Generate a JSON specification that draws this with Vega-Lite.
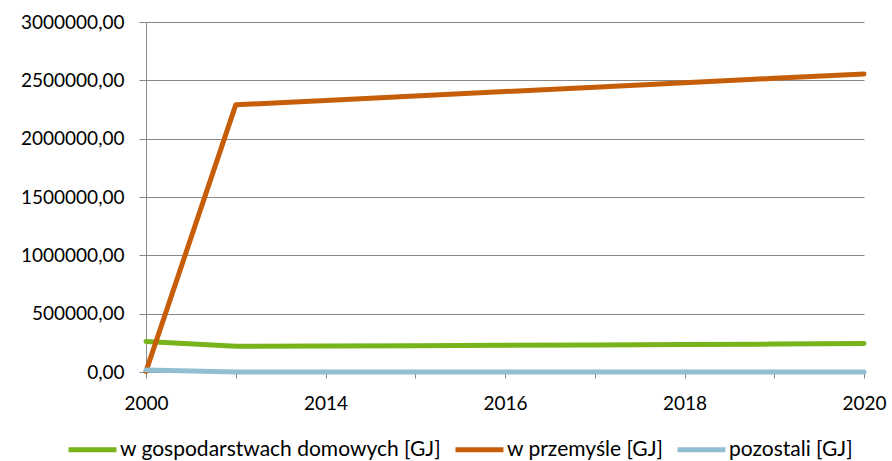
{
  "$schema": "https://vega.github.io/schema/vega-lite/v6.json",
  "width": 718,
  "height": 350,
  "autosize": {"type": "none"},
  "padding": {"left": 146, "top": 22, "right": 28, "bottom": 89},
  "background": "white",
  "config": {"view": {"stroke": null}, "font": "Lato"},
  "data": {
    "values": [
      {"year": "2000", "series": "w gospodarstwach domowych [GJ]", "value": 262000},
      {"year": "2013", "series": "w gospodarstwach domowych [GJ]", "value": 220000},
      {"year": "2014", "series": "w gospodarstwach domowych [GJ]", "value": 223000},
      {"year": "2015", "series": "w gospodarstwach domowych [GJ]", "value": 226000},
      {"year": "2016", "series": "w gospodarstwach domowych [GJ]", "value": 229000},
      {"year": "2017", "series": "w gospodarstwach domowych [GJ]", "value": 231000},
      {"year": "2018", "series": "w gospodarstwach domowych [GJ]", "value": 235000},
      {"year": "2019", "series": "w gospodarstwach domowych [GJ]", "value": 239000},
      {"year": "2020", "series": "w gospodarstwach domowych [GJ]", "value": 244000},
      {"year": "2000", "series": "w przemyśle [GJ]", "value": 5000},
      {"year": "2013", "series": "w przemyśle [GJ]", "value": 2290000},
      {"year": "2014", "series": "w przemyśle [GJ]", "value": 2328000},
      {"year": "2015", "series": "w przemyśle [GJ]", "value": 2366000},
      {"year": "2016", "series": "w przemyśle [GJ]", "value": 2404000},
      {"year": "2017", "series": "w przemyśle [GJ]", "value": 2441000},
      {"year": "2018", "series": "w przemyśle [GJ]", "value": 2479000},
      {"year": "2019", "series": "w przemyśle [GJ]", "value": 2517000},
      {"year": "2020", "series": "w przemyśle [GJ]", "value": 2555000},
      {"year": "2000", "series": "pozostali [GJ]", "value": 17000},
      {"year": "2013", "series": "pozostali [GJ]", "value": 1000},
      {"year": "2014", "series": "pozostali [GJ]", "value": 1000},
      {"year": "2015", "series": "pozostali [GJ]", "value": 1000},
      {"year": "2016", "series": "pozostali [GJ]", "value": 1000},
      {"year": "2017", "series": "pozostali [GJ]", "value": 1000},
      {"year": "2018", "series": "pozostali [GJ]", "value": 1000},
      {"year": "2019", "series": "pozostali [GJ]", "value": 1000},
      {"year": "2020", "series": "pozostali [GJ]", "value": 1000}
    ]
  },
  "mark": {"type": "line", "strokeWidth": 5, "strokeCap": "round", "strokeJoin": "round"},
  "encoding": {
    "x": {
      "field": "year",
      "type": "ordinal",
      "sort": null,
      "scale": {"type": "point", "padding": 0},
      "axis": {
        "title": null,
        "labelAngle": 0,
        "labelExpr": "indexof(['2000','2014','2016','2018','2020'], datum.label) >= 0 ? datum.label : ''",
        "labelOverlap": false,
        "domainColor": "#898989",
        "tickColor": "#898989",
        "tickSize": 6,
        "labelFontSize": 19,
        "labelPadding": 16,
        "labelColor": "#000000",
        "labelFont": "Lato",
        "grid": false
      }
    },
    "y": {
      "field": "value",
      "type": "quantitative",
      "scale": {"domain": [0, 3000000]},
      "axis": {
        "title": null,
        "values": [0, 500000, 1000000, 1500000, 2000000, 2500000, 3000000],
        "labelExpr": "format(datum.value, 'd') + ',00'",
        "domainColor": "#898989",
        "tickColor": "#898989",
        "gridColor": "#898989",
        "tickSize": 7,
        "labelFontSize": 19,
        "labelPadding": 15,
        "labelColor": "#000000",
        "labelFont": "Lato"
      }
    },
    "color": {
      "field": "series",
      "type": "nominal",
      "sort": null,
      "scale": {
        "domain": ["w gospodarstwach domowych [GJ]", "w przemyśle [GJ]", "pozostali [GJ]"],
        "range": ["#77B41B", "#C65D09", "#92BED3"]
      },
      "legend": {
        "title": null,
        "orient": "none",
        "legendX": -80,
        "legendY": 401,
        "direction": "horizontal",
        "symbolType": "stroke",
        "symbolSize": 2300,
        "symbolStrokeWidth": 5,
        "labelFontSize": 21,
        "labelFont": "Lato",
        "labelColor": "#000000",
        "labelLimit": 500,
        "labelOffset": 1,
        "columnPadding": 3,
        "padding": 0
      }
    }
  }
}
